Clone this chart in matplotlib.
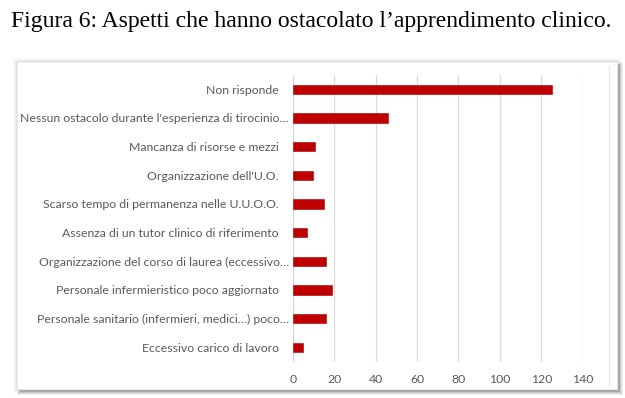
import matplotlib.pyplot as plt
from matplotlib.patches import Rectangle
from matplotlib.transforms import ScaledTranslation

# Data (top to bottom)
categories = [
    "Non risponde",
    "Nessun ostacolo durante l'esperienza di tirocinio\u2026",
    "Mancanza di risorse e mezzi",
    "Organizzazione dell'U.O.",
    "Scarso tempo di permanenza nelle U.U.O.O.",
    "Assenza di un tutor clinico di riferimento",
    "Organizzazione del corso di laurea (eccessivo\u2026",
    "Personale infermieristico poco aggiornato",
    "Personale sanitario (infermieri, medici\u2026) poco\u2026",
    "Eccessivo carico di lavoro",
]
values = [125, 46, 11, 10, 15, 7, 16, 19, 16, 5]
x_ticks = [0, 20, 40, 60, 80, 100, 120, 140]

W, H = 625, 398
fig = plt.figure(figsize=(W / 100, H / 100), dpi=100)
fig.patch.set_facecolor('white')


def px_rect(x0, y0, x1, y1, **kw):
    # rectangle in pixel coords (origin top-left) -> figure fraction
    return Rectangle((x0 / W, 1 - y1 / H), (x1 - x0) / W, (y1 - y0) / H,
                     transform=fig.transFigure, zorder=-5, **kw)


# faint halo + darker drop shadow to the lower right
for d, a in [(4, 0.02), (3, 0.025), (2, 0.03), (1, 0.035)]:
    fig.patches.append(px_rect(17 - d, 62 - d, 617 + d, 389 + d,
                               facecolor='black', alpha=a, edgecolor='none'))
for d, a in [(6, 0.06), (5, 0.07), (4, 0.09), (3, 0.11)]:
    fig.patches.append(px_rect(17 + 6 - d, 62 + 6 - d, 617 + d, 389 + d,
                               facecolor='black', alpha=a, edgecolor='none'))
fig.patches.append(px_rect(17, 62, 617, 389, facecolor='white',
                           edgecolor='#ececec', linewidth=0.6))
fig.lines.append(plt.Line2D([609 / W, 609 / W], [1 - 66 / H, 1 - 386 / H],
                            transform=fig.transFigure, color='#e6e6e6', lw=0.8,
                            zorder=-4))

# title
fig.text(311 / W, 1 - 22 / H,
         "Figura 6: Aspetti che hanno ostacolato l\u2019apprendimento clinico.",
         family='Liberation Serif', fontsize=17, ha='center', va='center',
         color='black')

ax = fig.add_axes([292.7 / W, 1 - 361.6 / H, 290 / W, (361.6 - 75) / H])
ax.set_facecolor('none')
ypos = list(range(len(categories)))
ax.barh(ypos, values, height=0.33, color='#c00000', edgecolor='#a00000',
        linewidth=0.4, zorder=3)
ax.set_ylim(len(categories) - 0.5, -0.5)
ax.set_xlim(0, 140)
ax.set_xticks(x_ticks)
ax.set_xticklabels([str(t) for t in x_ticks])
ax.set_yticks(ypos)
ax.set_yticklabels(categories)
ax.xaxis.grid(True, color='#d9d9d9', linewidth=0.9, zorder=0)
ax.set_axisbelow(True)
for s in ax.spines.values():
    s.set_visible(False)
ax.axvline(0, color='#d9d9d9', lw=0.9, zorder=1)
ax.tick_params(axis='y', length=0, pad=10, labelsize=8.8, labelcolor='#595959')
ax.tick_params(axis='x', length=0, pad=9, labelsize=8.8, labelcolor='#595959')
for lab in ax.get_xticklabels() + ax.get_yticklabels():
    lab.set_family('Lato')
# truncated labels run a bit further right, as in the original
for lab in ax.get_yticklabels():
    if lab.get_text().endswith('\u2026'):
        lab.set_transform(lab.get_transform() +
                          ScaledTranslation(10 / 100, 0, fig.dpi_scale_trans))

fig.savefig('out.png', dpi=100)
